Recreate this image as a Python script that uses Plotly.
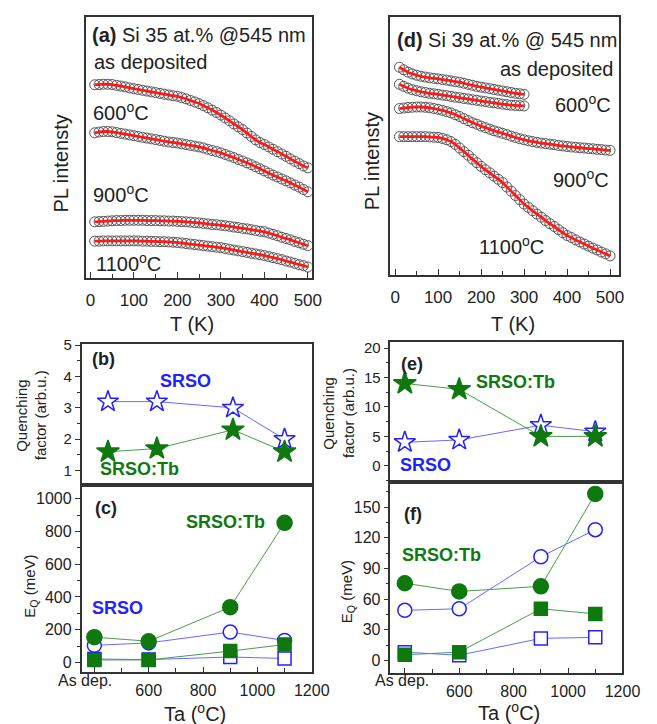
import plotly.graph_objects as go

W, H = 657, 724

# ---------------- data ----------------
T_full = list(range(10, 501, 10))
T_short = list(range(10, 301, 10))

# panel (a): Si 35 at.% PL intensity (arb. units)
a_asdep = [74.0, 74.1, 74.2, 74.2, 74.1, 73.8, 73.5, 73.2, 72.8, 72.5,
           72.2, 71.9, 71.6, 71.3, 71.0, 70.7, 70.4, 70.1, 69.8, 69.6,
           69.1, 68.6, 68.0, 67.4, 66.8, 66.0, 65.2, 64.3, 63.4, 62.4,
           61.3, 60.2, 59.0, 57.9, 56.8, 55.5, 54.2, 52.9, 51.9, 51.1,
           50.2, 49.3, 48.4, 47.5, 46.6, 45.6, 44.7, 43.8, 42.9, 42.2]
a_600 = [55.6, 55.9, 56.1, 56.1, 56.0, 55.7, 55.4, 55.1, 54.8, 54.5,
         54.2, 53.9, 53.6, 53.3, 53.0, 52.7, 52.4, 52.1, 51.9, 51.7,
         51.4, 51.1, 50.8, 50.5, 50.2, 49.8, 49.3, 48.8, 48.4, 47.9,
         47.3, 46.7, 46.1, 45.4, 44.8, 44.1, 43.4, 42.6, 41.8, 41.0,
         40.2, 39.4, 38.7, 37.9, 37.2, 36.4, 35.6, 34.8, 33.9, 33.0]
a_900 = [21.5, 21.6, 21.7, 21.8, 21.9, 22.0, 22.0, 22.1, 22.1, 22.1,
         22.1, 22.1, 22.0, 22.0, 22.0, 21.9, 21.9, 21.8, 21.8, 21.7,
         21.6, 21.5, 21.4, 21.2, 21.1, 20.9, 20.7, 20.5, 20.4, 20.2,
         20.0, 19.8, 19.5, 19.3, 19.0, 18.8, 18.5, 18.2, 17.9, 17.7,
         17.2, 16.7, 16.2, 15.6, 15.1, 14.6, 14.0, 13.5, 12.9, 12.4]
a_1100 = [14.1, 14.1, 14.2, 14.2, 14.2, 14.2, 14.2, 14.2, 14.2, 14.2,
          14.2, 14.1, 14.1, 14.0, 14.0, 13.9, 13.9, 13.8, 13.7, 13.6,
          13.4, 13.2, 13.0, 12.8, 12.6, 12.4, 12.2, 12.0, 11.8, 11.6,
          11.3, 11.0, 10.7, 10.4, 10.1, 9.8, 9.5, 9.2, 8.9, 8.6,
          8.2, 7.8, 7.4, 7.0, 6.5, 6.1, 5.6, 5.1, 4.7, 4.2]

# panel (d): Si 39 at.% PL intensity (arb. units)
d_asdep = [80.5, 79.5, 78.6, 77.9, 77.4, 77.0, 76.7, 76.4, 76.2, 76.0,
           75.7, 75.5, 75.2, 74.9, 74.7, 74.3, 73.9, 73.5, 73.1, 72.8,
           72.5, 72.2, 71.9, 71.6, 71.3, 71.0, 70.7, 70.4, 70.2, 70.0]
d_600 = [73.9, 73.1, 72.4, 71.8, 71.4, 71.0, 70.7, 70.4, 70.2, 70.0,
         69.7, 69.5, 69.2, 68.9, 68.7, 68.4, 68.2, 67.9, 67.7, 67.4,
         67.2, 66.9, 66.7, 66.5, 66.2, 66.0, 65.8, 65.7, 65.6, 65.5]
d_900 = [64.5, 64.7, 64.9, 65.0, 65.1, 65.1, 65.0, 64.8, 64.5, 64.2,
         63.8, 63.3, 62.8, 62.1, 61.4, 60.6, 59.8, 59.0, 58.4, 57.7,
         57.1, 56.5, 55.9, 55.4, 54.9, 54.4, 53.8, 53.3, 52.8, 52.4,
         52.0, 51.7, 51.4, 51.1, 50.9, 50.7, 50.5, 50.2, 50.0, 49.8,
         49.6, 49.5, 49.3, 49.2, 49.0, 48.9, 48.7, 48.6, 48.4, 48.3]
d_1100 = [53.6, 53.6, 53.6, 53.6, 53.6, 53.6, 53.6, 53.5, 53.4, 53.3,
          52.9, 52.4, 51.7, 50.6, 49.2, 47.8, 46.4, 44.9, 43.5, 42.1,
          40.8, 39.6, 38.3, 37.1, 35.8, 34.1, 32.5, 30.8, 29.2, 27.5,
          26.2, 24.9, 23.6, 22.4, 21.1, 19.9, 18.8, 17.6, 16.4, 15.3,
          14.5, 13.6, 12.8, 12.0, 11.2, 10.4, 9.7, 8.9, 8.2, 7.4]

# annealing temperatures (As dep. plotted at 400)
Ta_b = [450, 630, 910, 1100]
Ta = [400, 600, 900, 1100]
ta_ticks = [400, 600, 800, 1000, 1200]
ta_text = ["", "600", "800", "1000", "1200"]

# panel (b) quenching factor, Si 35
b_srso = [3.2, 3.2, 3.0, 2.0]
b_srsotb = [1.6, 1.7, 2.3, 1.6]
# panel (e) quenching factor, Si 39
e_srso = [4.0, 4.4, 6.9, 5.8]
e_srsotb = [14.0, 13.0, 5.0, 5.0]
# panel (c) E_Q (meV), Si 35
c_srso_circ = [105, 120, 186, 135]
c_srsotb_circ = [155, 130, 338, 852]
c_srso_sq = [22, 18, 34, 25]
c_srsotb_sq = [16, 16, 70, 110]
# panel (f) E_Q (meV), Si 39
f_srso_circ = [49.0, 50.5, 101.5, 128.0]
f_srsotb_circ = [75.5, 67.5, 72.5, 163.0]
f_srso_sq = [8.0, 5.0, 21.5, 22.5]
f_srsotb_sq = [5.5, 8.0, 50.5, 45.5]

# ---------------- style ----------------
FONT = "Arial, Liberation Sans, sans-serif"
BLUE = "#2222ff"
BLUE_L = "#6a6aff"
GREEN = "#0f780f"
GREEN_L = "#4c9c4c"
FRAME = "#333333"


def pxx(x):
    return x / W


def pyy(y):
    return 1 - y / H


fig = go.Figure()


def pl_pair(T, vals, xa, ya):
    fig.add_trace(go.Scatter(x=T, y=vals, mode="markers", xaxis=xa, yaxis=ya,
                             marker=dict(symbol="circle-open", size=10, color="#555555",
                                         line=dict(width=1)), showlegend=False))
    fig.add_trace(go.Scatter(x=T, y=vals, mode="lines", xaxis=xa, yaxis=ya,
                             line=dict(color="#ff1a1a", width=2.8, shape="spline", smoothing=1.0),
                             showlegend=False))


for s in (a_asdep, a_600, a_900, a_1100):
    pl_pair(T_full, s, "x", "y")
pl_pair(T_short, d_asdep, "x2", "y2")
pl_pair(T_short, d_600, "x2", "y2")
pl_pair(T_full, d_900, "x2", "y2")
pl_pair(T_full, d_1100, "x2", "y2")


def series(x, y, xa, ya, symbol, color, lcolor, size, fill=True):
    fig.add_trace(go.Scatter(
        x=x, y=y, mode="lines+markers", xaxis=xa, yaxis=ya, showlegend=False,
        line=dict(color=lcolor, width=1),
        marker=dict(symbol=symbol, size=size, color=color if fill else "white",
                    line=dict(color=color, width=1.5))))


# (b)
series(Ta_b, b_srso, "x3", "y3", "star", BLUE, BLUE_L, 16, fill=False)
series(Ta_b, b_srsotb, "x3", "y3", "star", GREEN, GREEN_L, 17)
# (c)
series(Ta, c_srso_circ, "x4", "y4", "circle", BLUE, BLUE_L, 14, fill=False)
series(Ta, c_srso_sq, "x4", "y4", "square", BLUE, BLUE_L, 13, fill=False)
series(Ta, c_srsotb_circ, "x4", "y4", "circle", GREEN, GREEN_L, 15)
series(Ta, c_srsotb_sq, "x4", "y4", "square", GREEN, GREEN_L, 13)
# (e)
series(Ta, e_srso, "x5", "y5", "star", BLUE, BLUE_L, 16, fill=False)
series(Ta, e_srsotb, "x5", "y5", "star", GREEN, GREEN_L, 17)
# (f)
series(Ta, f_srso_circ, "x6", "y6", "circle", BLUE, BLUE_L, 14, fill=False)
series(Ta, f_srso_sq, "x6", "y6", "square", BLUE, BLUE_L, 13, fill=False)
series(Ta, f_srsotb_circ, "x6", "y6", "circle", GREEN, GREEN_L, 15)
series(Ta, f_srsotb_sq, "x6", "y6", "square", GREEN, GREEN_L, 13)


def base_axis(domain, rng, anchor, **kw):
    d = dict(domain=domain, range=rng, anchor=anchor, showgrid=False, zeroline=False,
             showline=True, linecolor=FRAME, linewidth=1.5, mirror=True,
             tickcolor=FRAME, tickwidth=1.2, fixedrange=True,
             tickfont=dict(family=FONT, size=16, color="#222"))
    d.update(kw)
    return d


dom_a_x = [pxx(88), pxx(320)]
dom_a_y = [pyy(273), pyy(9)]
dom_d_x = [pxx(401), pxx(636)]
dom_d_y = [pyy(270), pyy(9)]
dom_b_x = [pxx(83), pxx(320)]
dom_b_y = [pyy(482), pyy(340)]
dom_c_y = [pyy(671), pyy(482)]
dom_e_x = [pxx(401), pxx(640)]
dom_e_y = [pyy(479), pyy(338)]
dom_f_y = [pyy(672), pyy(479)]

pl_x = dict(ticks="inside", ticklen=6, tickmode="linear", tick0=0, dtick=100,
            minor=dict(ticks="inside", ticklen=4, dtick=50, tick0=0, tickcolor=FRAME),
            ticklabelstandoff=6, tickfont=dict(family=FONT, size=17, color="#222"))
ta_x = dict(ticks="inside", ticklen=5, tickmode="array", tickvals=ta_ticks, ticktext=ta_text,
            minor=dict(ticks="inside", ticklen=4, dtick=100, tick0=0, tickcolor=FRAME),
            ticklabelstandoff=3)

fig.update_layout(
    width=W, height=H, margin=dict(l=0, r=0, t=0, b=0),
    paper_bgcolor="white", plot_bgcolor="white",
    font=dict(family=FONT, color="#222"),
    xaxis=base_axis(dom_a_x, [-9, 509], "y", **pl_x),
    yaxis=base_axis(dom_a_y, [0, 100], "x", showticklabels=False, ticks=""),
    xaxis2=base_axis(dom_d_x, [-11, 520], "y2", **pl_x),
    yaxis2=base_axis(dom_d_y, [0, 100], "x2", showticklabels=False, ticks=""),
    xaxis3=base_axis(dom_b_x, [353, 1200], "y3", showticklabels=False, ticks=""),
    yaxis3=base_axis(dom_b_y, [0.55, 5.03], "x3", ticks="outside", ticklen=5,
                     tickmode="linear", tick0=1, dtick=1,
                     minor=dict(ticks="outside", ticklen=3, dtick=0.5, tick0=0, tickcolor=FRAME),
                     tickfont=dict(family=FONT, size=15, color="#222")),
    xaxis4=base_axis(dom_b_x, [353, 1200], "y4", **ta_x),
    yaxis4=base_axis(dom_c_y, [-55, 1085], "x4", ticks="outside", ticklen=5,
                     tickmode="linear", tick0=0, dtick=200,
                     minor=dict(ticks="outside", ticklen=3, dtick=100, tick0=0, tickcolor=FRAME)),
    xaxis5=base_axis(dom_e_x, [347, 1200], "y5", showticklabels=False, ticks=""),
    yaxis5=base_axis(dom_e_y, [-2.7, 21], "x5", ticks="outside", ticklen=5,
                     tickmode="linear", tick0=0, dtick=5,
                     minor=dict(ticks="outside", ticklen=3, dtick=2.5, tick0=0, tickcolor=FRAME),
                     tickfont=dict(family=FONT, size=15, color="#222")),
    xaxis6=base_axis(dom_e_x, [347, 1200], "y6", **ta_x),
    yaxis6=base_axis(dom_f_y, [-12, 175], "x6", ticks="outside", ticklen=5,
                     tickmode="linear", tick0=0, dtick=30,
                     minor=dict(ticks="outside", ticklen=3, dtick=15, tick0=0, tickcolor=FRAME)),
)

ann = []


def text(x, y, s, size=20, color="#222", xanchor="center", angle=0):
    ann.append(dict(x=pxx(x), y=pyy(y), xref="paper", yref="paper", text=s,
                    showarrow=False, xanchor=xanchor, yanchor="middle", textangle=angle,
                    font=dict(family=FONT, size=size, color=color)))


deg = "<sup>o</sup>C"
# panel (a)
text(92, 27, "<b>(a)</b> Si 35 at.% @545 nm", xanchor="left")
text(94, 55, "as deposited", xanchor="left")
text(93, 105, "600" + deg, xanchor="left")
text(93, 188, "900" + deg, xanchor="left")
text(96, 257, "1100" + deg, xanchor="left")
# panel (d)
text(406, 32, "<b>(d)</b> Si 39 at.% @ 545 nm", xanchor="left")
text(632, 62, "as deposited", xanchor="right")
text(630, 97, "600" + deg, xanchor="right")
text(628, 172, "900" + deg, xanchor="right")
text(561, 240, "1100" + deg, xanchor="right")
# axis titles top
text(62, 157, "PL intensty", angle=-90)
text(382, 155, "PL intensty", angle=-90)
text(197, 320, "T (K)")
text(527, 320, "T (K)")
# (b)/(e) y titles
text(21, 412, "Quenching", size=15, angle=-90)
text(41, 412, "factor (arb.u.)", size=15, angle=-90)
text(337, 410, "Quenching", size=15, angle=-90)
text(358, 410, "factor (arb.u.)", size=15, angle=-90)
# (c)/(f) y titles
text(30, 585, "E<sub>Q</sub> (meV)", size=15, angle=-90)
text(357, 590, "E<sub>Q</sub> (meV)", size=15, angle=-90)
# bottom x titles
text(200, 712, "Ta (" + deg + ")")
text(523, 711, "Ta (" + deg + ")")
# As dep. tick labels
text(87, 680, "As dep.", size=16)
text(413, 680, "As dep.", size=16)
# panel letters and labels
text(92, 355, "<b>(b)</b>", size=18, xanchor="left")
text(190, 377, "<b>SRSO</b>", size=18, color=BLUE)
text(143, 466, "<b>SRSO:Tb</b>", size=18, color=GREEN)
text(95, 506, "<b>(c)</b>", size=18, xanchor="left")
text(231, 520, "<b>SRSO:Tb</b>", size=18, color=GREEN)
text(120, 607, "<b>SRSO</b>", size=18, color=BLUE)
text(410, 360, "<b>(e)</b>", size=18, xanchor="left")
text(530, 378, "<b>SRSO:Tb</b>", size=18, color=GREEN)
text(437, 462, "<b>SRSO</b>", size=18, color=BLUE)
text(413, 512, "<b>(f)</b>", size=18, xanchor="left")
text(454, 553, "<b>SRSO:Tb</b>", size=18, color=GREEN)

fig.update_layout(annotations=ann)

fig.write_html("out.html", config={"displayModeBar": False},
               post_script="document.body.style.margin='0';document.body.style.overflow='hidden';")
